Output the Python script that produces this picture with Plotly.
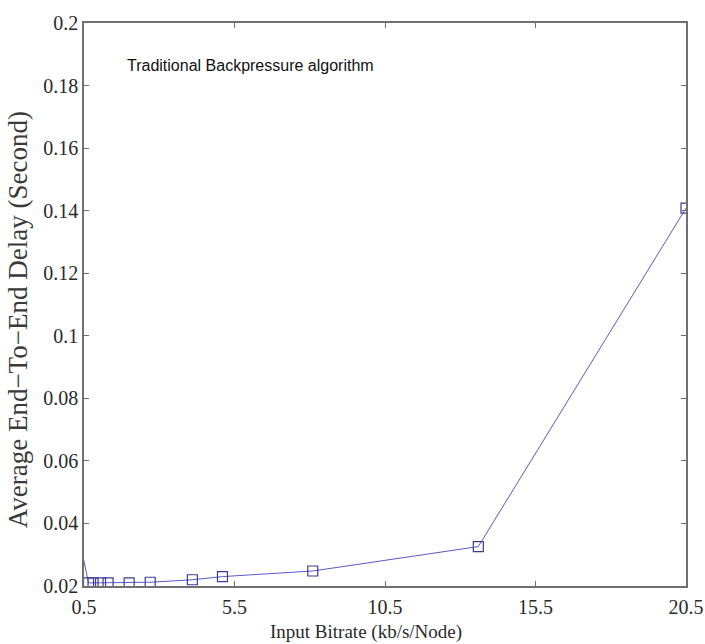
import plotly.graph_objects as go

# Data
bitrate = [0.3, 0.65, 0.8, 1.05, 1.3, 2.0, 2.7, 4.1, 5.1, 8.1, 13.6, 20.5]
delay = [0.037, 0.0210, 0.0210, 0.0210, 0.0210, 0.0210, 0.0212, 0.0220, 0.0230, 0.0248, 0.0326, 0.1408]

x_ticks = [0.5, 5.5, 10.5, 15.5, 20.5]
y_ticks = [0.02, 0.04, 0.06, 0.08, 0.1, 0.12, 0.14, 0.16, 0.18, 0.2]
y_tick_labels = ["0.02", "0.04", "0.06", "0.08", "0.1", "0.12", "0.14", "0.16", "0.18", "0.2"]

x_title = "Input Bitrate (kb/s/Node)"
y_title = "Average End\u2212To\u2212End Delay (Second)"
note = "Traditional Backpressure algorithm"

serif = "Liberation Serif, Times New Roman, serif"

fig = go.Figure()
fig.add_trace(go.Scatter(
    x=bitrate, y=delay, mode="lines+markers",
    line=dict(color="#5a5ac4", width=1),
    marker=dict(symbol="square-open", size=10, color="#3c3c96", line=dict(width=1.2)),
    cliponaxis=True, showlegend=False,
))

axis_common = dict(
    showgrid=False, zeroline=False, showline=True, linecolor="#707070", linewidth=1.5,
    mirror="ticks", ticks="inside", ticklen=5, tickcolor="#707070",
    tickfont=dict(family=serif, size=20, color="#2a2a2a"),
    automargin=False,
)

fig.update_layout(
    width=705, height=644,
    margin=dict(l=84, r=19, t=23, b=58),
    plot_bgcolor="white", paper_bgcolor="white",
    xaxis=dict(range=[0.5, 20.5], tickvals=x_ticks, ticktext=[str(v) for v in x_ticks],
               ticklabelstandoff=2, **axis_common),
    yaxis=dict(range=[0.02, 0.2], tickvals=y_ticks, ticktext=y_tick_labels, **axis_common),
    annotations=[
        dict(text=note, xref="paper", yref="paper",
             x=0.068, y=0.925, xanchor="left", yanchor="middle", showarrow=False,
             font=dict(family="Liberation Sans, Arial, sans-serif", size=16, color="#111111")),
        dict(text=x_title, xref="paper", yref="paper",
             x=0.468, y=-0.0817, xanchor="center", yanchor="middle", showarrow=False,
             font=dict(family=serif, size=19, color="#2a2a2a")),
        dict(text=y_title, xref="paper", yref="paper", textangle=-90,
             x=-0.1096, y=0.472, xanchor="center", yanchor="middle", showarrow=False,
             font=dict(family=serif, size=27, color="#3a3a3a")),
    ],
)

fig.write_html("out.html", config={"displayModeBar": False},
               post_script="document.body.style.margin='0';document.body.style.overflow='hidden';")
